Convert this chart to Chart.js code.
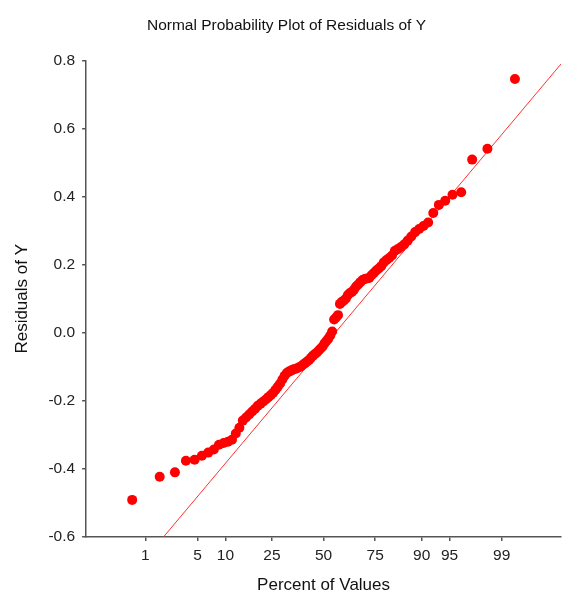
<!DOCTYPE html>
<html>
<head>
<meta charset="utf-8">
<script src="https://cdn.jsdelivr.net/npm/chart.js@4.4.0/dist/chart.umd.min.js"></script>
<style>
    html, body { margin: 0; padding: 0; background: #ffffff; }
    #wrap { width: 585px; height: 596px; }
</style>
</head>
<body>
<div id="wrap"><canvas id="probChart"></canvas></div>
<script>
// ===============================
// DATA
// ===============================

// sorted residuals, smallest to largest (n = 100)
const residuals = [
    -0.491, -0.423, -0.410, -0.376, -0.373, -0.361, -0.352, -0.343, -0.329, -0.324,
    -0.320, -0.314, -0.296, -0.279, -0.258, -0.249, -0.240, -0.231, -0.223, -0.214,
    -0.208, -0.202, -0.196, -0.189, -0.183, -0.176, -0.167, -0.158, -0.149, -0.137,
    -0.126, -0.118, -0.114, -0.111, -0.108, -0.106, -0.104, -0.101, -0.098, -0.093,
    -0.089, -0.084, -0.080, -0.073, -0.067, -0.062, -0.058, -0.052, -0.046, -0.040,
    -0.031, -0.024, -0.017, -0.008, 0.004, 0.039, 0.045, 0.052, 0.085, 0.091,
    0.095, 0.101, 0.111, 0.117, 0.120, 0.127, 0.136, 0.142, 0.149, 0.155,
    0.158, 0.160, 0.161, 0.169, 0.176, 0.183, 0.189, 0.196, 0.207, 0.214,
    0.220, 0.227, 0.241, 0.246, 0.252, 0.260, 0.271, 0.283, 0.296, 0.305,
    0.314, 0.324, 0.352, 0.376, 0.388, 0.406, 0.413, 0.509, 0.541, 0.746
];

// reference line ends (normal score, residual)
const refLineZ = [-2.09, 3.10];
const refLineY = [-0.60, 0.79];

// x axis tick labels (percent of values)
const percentTicks = [1, 5, 10, 25, 50, 75, 90, 95, 99];

// y axis
const yTicks = [-0.6, -0.4, -0.2, 0.0, 0.2, 0.4, 0.6, 0.8];

// ===============================
// NORMAL SCALE HELPER
// ===============================

// inverse normal cdf (Acklam)
function probit(p) {
    const a = [-39.69683028665376, 220.9460984245205, -275.9285104469687, 138.3577518672690, -30.66479806614716, 2.506628277459239];
    const b = [-54.47609879822406, 161.5858368580409, -155.6989798598866, 66.80131188771972, -13.28068155288572];
    const c = [-0.007784894002430293, -0.3223964580411365, -2.400758277161838, -2.549732539343734, 4.374664141464968, 2.938163982698783];
    const d = [0.007784695709041462, 0.3224671290700398, 2.445134137142996, 3.754408661907416];
    const pl = 0.02425;
    let q, r;
    if (p < pl) {
        q = Math.sqrt(-2 * Math.log(p));
        return (((((c[0] * q + c[1]) * q + c[2]) * q + c[3]) * q + c[4]) * q + c[5]) /
            ((((d[0] * q + d[1]) * q + d[2]) * q + d[3]) * q + 1);
    }
    if (p > 1 - pl) {
        q = Math.sqrt(-2 * Math.log(1 - p));
        return -(((((c[0] * q + c[1]) * q + c[2]) * q + c[3]) * q + c[4]) * q + c[5]) /
            ((((d[0] * q + d[1]) * q + d[2]) * q + d[3]) * q + 1);
    }
    q = p - 0.5;
    r = q * q;
    return (((((a[0] * r + a[1]) * r + a[2]) * r + a[3]) * r + a[4]) * r + a[5]) * q /
        (((((b[0] * r + b[1]) * r + b[2]) * r + b[3]) * r + b[4]) * r + 1);
}

// plotting position of each sorted residual (Blom)
const n = residuals.length;
const points = residuals.map((v, i) => ({
    x: probit((i + 1 - 0.375) / (n + 0.25)),
    y: v
}));

const tickZ = percentTicks.map(p => probit(p / 100));

// ===============================
// CHART
// ===============================

const fontFamily = "Arial, 'Liberation Sans', Helvetica, sans-serif";
Chart.defaults.font.family = fontFamily;
Chart.defaults.color = "#222222";

const axisColor = "#555555";

new Chart(document.getElementById("probChart"), {
    type: "scatter",
    data: {
        datasets: [
            {
                label: "Residuals",
                data: points,
                pointRadius: 5,
                pointHoverRadius: 5,
                pointBackgroundColor: "#ff0000",
                pointBorderWidth: 0,
                borderColor: "#ff0000",
                order: 1
            },
            {
                label: "Reference",
                type: "line",
                data: refLineZ.map((z, i) => ({ x: z, y: refLineY[i] })),
                borderColor: "#ff3030",
                borderWidth: 1,
                pointRadius: 0,
                fill: false,
                order: 2
            }
        ]
    },
    options: {
        responsive: true,
        maintainAspectRatio: false,
        animation: false,
        layout: {
            padding: { left: 12, right: 24, top: 0, bottom: 0 }
        },
        plugins: {
            legend: { display: false },
            tooltip: { enabled: false },
            title: {
                display: true,
                text: "Normal Probability Plot of Residuals of Y",
                color: "#111111",
                font: { size: 15.5, weight: "normal" },
                padding: { top: 16, bottom: 26 }
            }
        },
        scales: {
            x: {
                type: "linear",
                min: -3.1,
                max: 3.1,
                afterBuildTicks: (scale) => {
                    scale.ticks = tickZ.map(z => ({ value: z }));
                },
                ticks: {
                    autoSkip: false,
                    maxRotation: 0,
                    padding: 5,
                    color: "#222222",
                    font: { size: 15.5 },
                    callback: (value, index) => String(percentTicks[index])
                },
                grid: {
                    display: true,
                    drawOnChartArea: false,
                    drawTicks: true,
                    tickLength: 4,
                    color: axisColor,
                    lineWidth: 1.5
                },
                border: { display: true, color: axisColor, width: 1.5 },
                title: {
                    display: true,
                    text: "Percent of Values",
                    color: "#111111",
                    font: { size: 17 },
                    padding: { top: 6, bottom: 0 }
                }
            },
            y: {
                min: -0.6,
                max: 0.8,
                afterBuildTicks: (scale) => {
                    scale.ticks = yTicks.map(v => ({ value: v }));
                },
                ticks: {
                    padding: 7,
                    color: "#222222",
                    font: { size: 15.5 },
                    callback: (value) => Number(value).toFixed(1)
                },
                grid: {
                    display: true,
                    drawOnChartArea: false,
                    drawTicks: true,
                    tickLength: 4,
                    color: axisColor,
                    lineWidth: 1.5
                },
                border: { display: true, color: axisColor, width: 1.5 },
                title: {
                    display: true,
                    text: "Residuals of Y",
                    color: "#111111",
                    font: { size: 17 },
                    padding: { top: 0, bottom: 9 }
                }
            }
        }
    }
});
</script>
</body>
</html>
